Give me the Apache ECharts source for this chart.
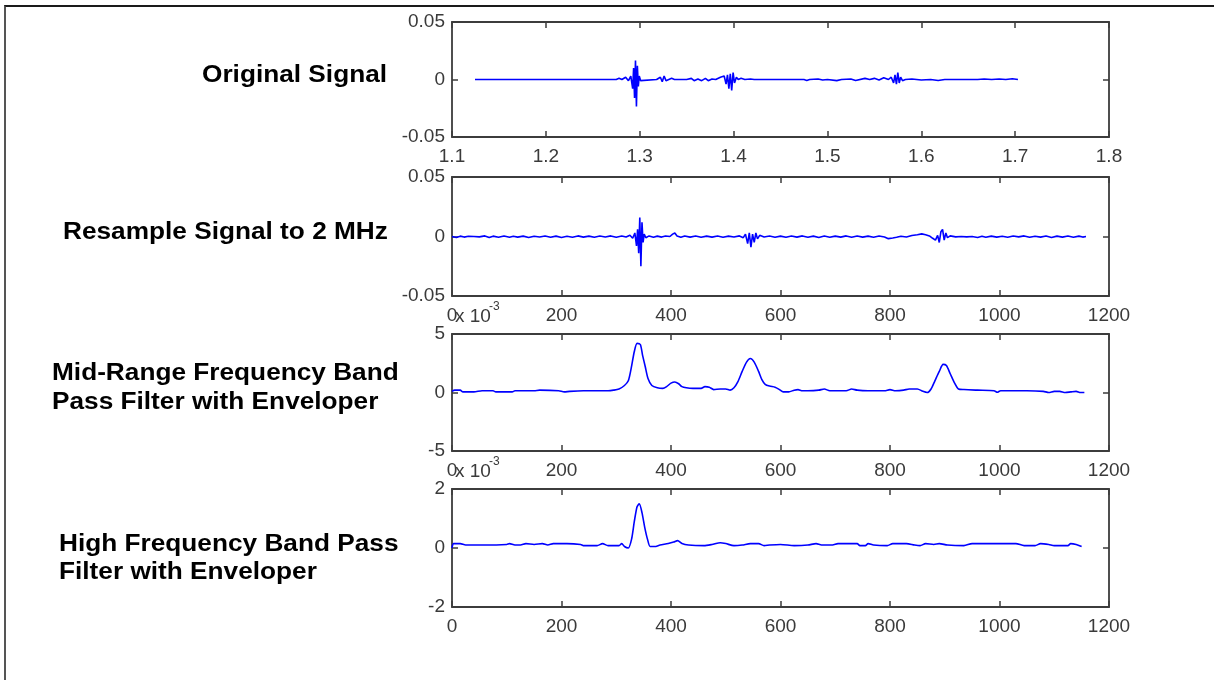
<!DOCTYPE html>
<html>
<head>
<meta charset="utf-8">
<title>Signal processing steps</title>
<script src="https://cdn.jsdelivr.net/npm/echarts@6/dist/echarts.min.js"></script>
<style>
  body { margin: 0; background: #fff; }
  #main { position: absolute; left: 0; top: 0; width: 1214px; height: 680px; }
  .frame {
    position: absolute; left: 4px; top: 5px; width: 1212px; height: 680px;
    border-left: 2px solid #555; border-top: 2px solid #1a1a1a;
  }
</style>
</head>
<body>
<div class="frame"></div>
<div id="main"></div>
<script>
/* data: [x, y] pairs */
// original signal (time axis)
var originalSignal = [
  [1.1245, 0], [1.142, 0], [1.143, 0.0008], [1.144, 0], [1.174, 0], [1.175, 0.0008], [1.176, 0],
  [1.207, 0], [1.208, 0.0006], [1.209, 0], [1.25, 0], [1.251, -0.0008], [1.252, 0], [1.258, 0],
  [1.259, -0.0006], [1.26, 0], [1.264, 0], [1.265, -0.0008], [1.266, 0], [1.275, 0], [1.278, 0.001],
  [1.281, 0], [1.285, 0.002], [1.288, -0.001], [1.2905, 0.003], [1.2925, -0.008], [1.2935, 0.01],
  [1.2945, -0.016], [1.2955, 0.0165], [1.2965, -0.0235], [1.2975, 0.012], [1.2985, -0.006],
  [1.2995, 0.003], [1.301, -0.001], [1.303, 0], [1.318, 0], [1.32, -0.001], [1.322, 0.002],
  [1.324, -0.002], [1.326, 0.003], [1.328, -0.001], [1.33, 0], [1.334, 0.001], [1.337, 0],
  [1.345, 0], [1.347, -0.001], [1.35, 0], [1.355, 0.001], [1.358, -0.001], [1.362, 0.0005],
  [1.366, -0.001], [1.37, 0.001], [1.373, -0.001], [1.377, 0.0005], [1.381, 0], [1.383, 0.001],
  [1.386, 0.002], [1.388, 0.001], [1.39, 0.003], [1.392, -0.004], [1.3935, 0.004], [1.395, -0.008],
  [1.3965, 0.005], [1.398, -0.0095], [1.3995, 0.006], [1.401, -0.003], [1.403, 0.002], [1.405, 0],
  [1.408, 0.001], [1.412, 0], [1.418, 0.0005], [1.422, 0], [1.43, 0], [1.432, -0.001], [1.434, 0],
  [1.443, 0], [1.445, -0.001], [1.447, 0], [1.46, 0], [1.462, -0.001], [1.465, 0], [1.475, 0],
  [1.478, -0.0008], [1.481, 0], [1.49, 0.0005], [1.495, -0.0005], [1.5, 0], [1.51, -0.001],
  [1.515, 0], [1.525, 0.0005], [1.53, -0.0008], [1.54, 0.001], [1.545, 0], [1.55, 0.001],
  [1.555, -0.0005], [1.56, 0.0015], [1.565, 0], [1.568, 0.002], [1.5705, -0.003], [1.572, 0.004],
  [1.5735, -0.004], [1.575, 0.006], [1.5765, -0.003], [1.578, 0.002], [1.58, -0.001], [1.583, 0],
  [1.59, 0.0005], [1.6, -0.0005], [1.61, 0], [1.618, -0.0008], [1.625, 0], [1.64, 0],
  [1.642, -0.0008], [1.645, 0], [1.66, 0], [1.667, 0.0004], [1.675, 0], [1.683, 0.0005],
  [1.69, 0], [1.697, 0.0006], [1.703, 0]
];
// resampled signal (sample index)
var resampledSignal = [
  [0, 0], [8, -0.0008], [15, 0.0003], [22, -0.0005], [30, 0.0002], [40, 0], [50, -0.0003],
  [60, 0.0005], [68, -0.0008], [75, 0.0003], [85, -0.0006], [95, 0.0004], [105, -0.0007],
  [112, 0.0002], [120, -0.0005], [130, 0.0003], [140, -0.0008], [150, 0.0002], [160, -0.0004],
  [170, 0.0004], [180, -0.0007], [190, 0.0003], [200, -0.0008], [210, 0.0002], [220, -0.0006],
  [230, 0.0005], [240, -0.0005], [250, 0.0003], [260, -0.0007], [270, 0.0004], [280, -0.0004],
  [290, 0.0005], [300, -0.0006], [310, 0.0004], [318, -0.0005], [325, 0.001], [330, -0.0015],
  [334, 0.003], [337, -0.008], [339, 0.006], [341, -0.014], [343, 0.016], [345, -0.025],
  [347, 0.012], [349, -0.005], [351, 0.002], [354, -0.001], [360, 0.0005], [368, -0.0006],
  [375, 0.0003], [383, -0.0005], [390, 0.0004], [398, 0], [403, 0.002], [407, 0.003],
  [411, 0.0005], [418, -0.0006], [425, 0.0004], [435, -0.0005], [445, 0.0004], [455, -0.0007],
  [465, 0.0003], [475, -0.0005], [485, 0.0004], [495, -0.0006], [505, 0.0003], [515, -0.0004],
  [525, 0.0005], [532, -0.001], [536, 0.002], [540, -0.006], [543, 0.003], [546, -0.009],
  [549, 0.002], [552, -0.005], [555, 0.003], [558, -0.002], [562, 0.001], [570, -0.0004],
  [580, 0.0004], [590, -0.0006], [600, 0.0003], [610, -0.0007], [620, 0.0004], [630, -0.0005],
  [640, 0.0005], [650, -0.0006], [660, 0.0003], [670, -0.0008], [680, 0.0004], [690, -0.0006],
  [700, 0.0003], [710, -0.0005], [720, 0.0005], [730, -0.0006], [740, 0.0004], [750, -0.0005],
  [760, 0.0003], [770, -0.0006], [780, 0.0004], [790, -0.0004], [797, -0.0018], [805, -0.0012],
  [812, -0.0006], [820, 0.0002], [830, -0.0004], [840, 0.0008], [850, 0.0015], [858, 0.0022],
  [865, 0.0015], [872, 0.0005], [878, -0.0015], [883, -0.003], [887, 0.001], [890, -0.005],
  [893, 0.004], [896, 0.006], [899, -0.003], [902, 0.003], [905, -0.001], [910, 0.0005],
  [920, -0.0003], [930, 0], [940, -0.0003], [950, 0], [960, -0.0008], [968, 0.0002],
  [975, -0.0006], [985, 0.0003], [995, -0.0005], [1005, 0.0002], [1015, -0.0006], [1025, 0.0004],
  [1035, -0.0003], [1045, 0.0005], [1055, -0.0007], [1065, 0.0002], [1075, -0.0005],
  [1085, 0.0004], [1095, -0.0008], [1105, 0.0003], [1115, -0.0005], [1125, 0.0004],
  [1135, -0.0007], [1145, 0.0003], [1152, -0.0005], [1158, 0]
];
// mid-range band envelope (x 10^-3)
var midBandEnvelope = [
  [0, 0.1], [5, 0.2], [15, 0.2], [20, 0.05], [40, 0.05], [55, 0.15], [75, 0.15], [80, 0.05],
  [110, 0.05], [115, 0.15], [150, 0.15], [160, 0.2], [195, 0.15], [205, 0.05], [215, 0.1],
  [240, 0.15], [285, 0.15], [295, 0.2], [305, 0.3], [315, 0.6], [322, 1.0], [327, 2.0],
  [333, 3.5], [338, 4.2], [344, 4.1], [348, 3.2], [353, 2.2], [358, 1.2], [365, 0.6],
  [375, 0.4], [385, 0.35], [392, 0.5], [400, 0.8], [407, 0.9], [414, 0.75], [420, 0.5],
  [428, 0.4], [440, 0.35], [455, 0.35], [462, 0.5], [470, 0.45], [478, 0.25], [490, 0.3],
  [500, 0.3], [508, 0.2], [515, 0.4], [522, 0.9], [530, 1.8], [538, 2.6], [545, 2.9],
  [552, 2.6], [560, 1.8], [566, 1.1], [572, 0.7], [580, 0.55], [590, 0.45], [598, 0.25],
  [605, 0.05], [615, 0.05], [625, 0.2], [632, 0.25], [640, 0.15], [650, 0.15], [670, 0.2],
  [680, 0.3], [690, 0.15], [720, 0.15], [730, 0.3], [740, 0.2], [760, 0.15], [790, 0.15],
  [800, 0.25], [810, 0.15], [825, 0.2], [835, 0.3], [850, 0.3], [860, 0.1], [868, 0.0],
  [875, 0.3], [882, 1.0], [890, 1.8], [897, 2.4], [903, 2.3], [910, 1.6], [918, 0.8],
  [925, 0.3], [935, 0.25], [960, 0.2], [990, 0.15], [996, 0.02], [1002, 0.15], [1050, 0.15],
  [1080, 0.1], [1090, 0.0], [1100, 0.1], [1110, 0.1], [1120, 0.0], [1130, 0.05], [1140, 0.1],
  [1148, 0.0], [1155, 0.0]
];
// high band envelope (x 10^-3)
var highBandEnvelope = [
  [0, 0.0], [3, 0.15], [15, 0.15], [25, 0.1], [60, 0.1], [100, 0.12], [105, 0.15], [115, 0.1],
  [125, 0.1], [135, 0.15], [150, 0.12], [165, 0.15], [175, 0.1], [185, 0.15], [210, 0.15],
  [235, 0.12], [240, 0.08], [265, 0.08], [275, 0.15], [285, 0.08], [305, 0.08], [310, 0.15],
  [315, 0.05], [322, 0.0], [328, 0.3], [333, 0.9], [338, 1.4], [342, 1.5], [347, 1.2],
  [352, 0.7], [357, 0.3], [362, 0.05], [370, 0.05], [380, 0.1], [395, 0.15], [405, 0.2],
  [412, 0.25], [420, 0.15], [432, 0.1], [460, 0.08], [475, 0.12], [490, 0.18], [500, 0.15],
  [515, 0.08], [530, 0.1], [545, 0.15], [560, 0.15], [570, 0.08], [580, 0.1], [600, 0.12],
  [625, 0.08], [650, 0.1], [665, 0.15], [675, 0.1], [695, 0.1], [705, 0.15], [740, 0.15],
  [745, 0.08], [755, 0.08], [760, 0.15], [770, 0.1], [795, 0.08], [805, 0.15], [830, 0.15],
  [845, 0.1], [855, 0.08], [865, 0.15], [880, 0.12], [890, 0.15], [905, 0.1], [935, 0.08],
  [950, 0.15], [990, 0.15], [1030, 0.15], [1045, 0.08], [1065, 0.08], [1075, 0.15],
  [1090, 0.12], [1100, 0.08], [1115, 0.08], [1125, 0.08], [1130, 0.15], [1140, 0.12],
  [1150, 0.05]
];

// axis ranges: [min, max, step]
var originalXRange = [1.1, 1.8, 0.1];
var sampleXRange = [0, 1200, 200];
var signalYRange = [-0.05, 0.05, 0.05];
var midYRange = [-5, 5, 5];
var highYRange = [-2, 2, 2];

// panel captions on the left, one entry per line
var captionLines = [
  { text: "Original Signal", x: 202, y: 76 },
  { text: "Resample Signal to 2 MHz", x: 63, y: 233 },
  { text: "Mid-Range Frequency Band", x: 52, y: 374 },
  { text: "Pass Filter with Enveloper", x: 52, y: 403 },
  { text: "High Frequency Band Pass", x: 59, y: 545 },
  { text: "Filter with Enveloper", x: 59, y: 573 },
];

var axisColor = "#3c3c3c";
var labelColor = "#3a3a3a";
var tickFont = "'Liberation Sans', Arial, sans-serif";

var panels = [
  { top: 22, height: 115, x: originalXRange, y: signalYRange, data: originalSignal, smooth: false },
  { top: 177, height: 119, x: sampleXRange, y: signalYRange, data: resampledSignal, smooth: false },
  { top: 334, height: 117, x: sampleXRange, y: midYRange, data: midBandEnvelope, smooth: 0.25 },
  { top: 489, height: 118, x: sampleXRange, y: highYRange, data: highBandEnvelope, smooth: 0.25 },
];

var myChart = echarts.init(document.getElementById("main"), null, { renderer: "canvas" });

// plain numbers, no thousands separator (like MATLAB)
function tickText(v) {
  return String(Math.round(v * 1000) / 1000);
}

function makeAxis(type, range, gridIndex, position, withLabels) {
  return {
    type: "value",
    gridIndex: gridIndex,
    position: position,
    min: range[0],
    max: range[1],
    interval: range[2],
    splitLine: { show: false },
    axisLine: { show: true, onZero: false, lineStyle: { color: axisColor, width: 1.8 } },
    axisTick: { show: true, inside: true, length: 6, lineStyle: { color: axisColor, width: 1.5 } },
    axisLabel: {
      show: withLabels,
      margin: type == "x" ? 10 : 7,
      color: labelColor,
      fontSize: 19,
      fontFamily: tickFont,
      formatter: tickText,
    },
  };
}

var grids = [], xAxes = [], yAxes = [], series = [];
panels.forEach(function (p, i) {
  grids.push({ left: 452, top: p.top, width: 657, height: p.height });
  xAxes.push(makeAxis("x", p.x, i, "bottom", true));
  xAxes.push(makeAxis("x", p.x, i, "top", false));
  yAxes.push(makeAxis("y", p.y, i, "left", true));
  yAxes.push(makeAxis("y", p.y, i, "right", false));
  series.push({
    type: "line",
    xAxisIndex: i * 2,
    yAxisIndex: i * 2,
    data: p.data,
    showSymbol: false,
    smooth: p.smooth,
    lineStyle: { color: "#0000ff", width: 1.6 },
    silent: true,
  });
});

// captions are a bit wider than the font, so stretch them horizontally
var graphics = captionLines.map(function (c) {
  return {
    type: "text",
    x: c.x,
    y: c.y,
    scaleX: 1.14,
    style: {
      text: c.text,
      fill: "#000",
      font: "bold 23px 'Liberation Sans', Arial, sans-serif",
      textAlign: "left",
      textVerticalAlign: "middle",
    },
  };
});

// MATLAB exponent labels above the two envelope panels
[panels[2].top, panels[3].top].forEach(function (t) {
  graphics.push({
    type: "text", x: 455, y: t - 17,
    style: { text: "x 10", fill: labelColor, font: "19px " + tickFont, textVerticalAlign: "middle" },
  });
  graphics.push({
    type: "text", x: 489, y: t - 27,
    style: { text: "-3", fill: labelColor, font: "12px " + tickFont, textVerticalAlign: "middle" },
  });
});

var option = {
  animation: false,
  backgroundColor: "transparent",
  grid: grids,
  xAxis: xAxes,
  yAxis: yAxes,
  series: series,
  graphic: graphics,
};

option && myChart.setOption(option);
window.addEventListener("resize", function () {
  myChart.resize();
});
</script>
</body>
</html>
